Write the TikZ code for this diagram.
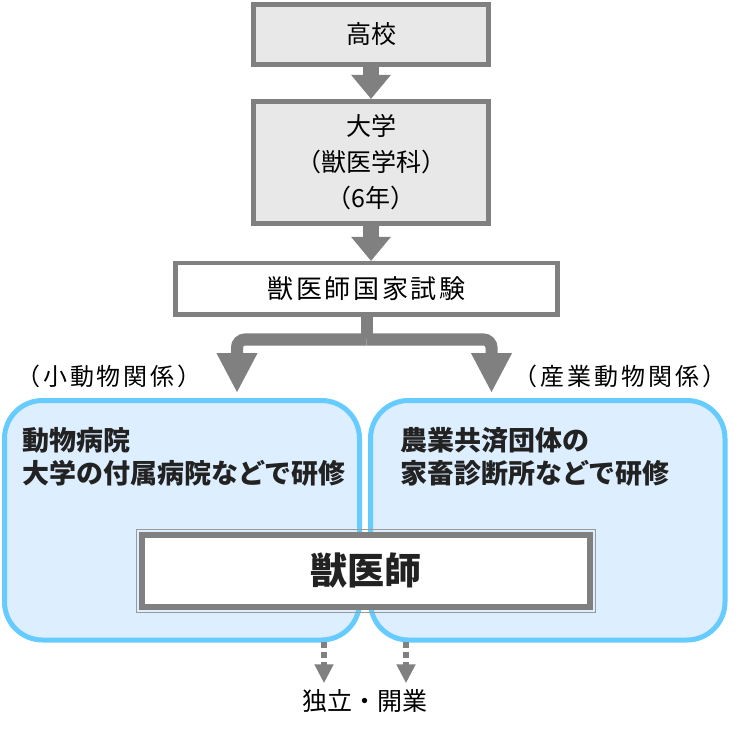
\documentclass[tikz,border=0pt]{standalone}
\usepackage{fontspec}
\setmainfont{Noto Sans CJK JP}
\usepackage{tikz}
\usetikzlibrary{arrows.meta,calc}
\definecolor{arrowgray}{HTML}{808080}
\definecolor{boxgray}{HTML}{E8E8E8}
\definecolor{skyline}{HTML}{66CCFF}
\definecolor{skyfill}{HTML}{DDEEFF}
\definecolor{textdark}{HTML}{222222}

\begin{document}
\begin{tikzpicture}[x=1pt,y=-1pt,
    graybox/.style={draw=arrowgray,fill=boxgray,line width=5pt,inner sep=0pt,align=center,font=\fontsize{25}{36}\selectfont},
    exambox/.style={draw=arrowgray,fill=white,line width=4.5pt,inner sep=0pt,font=\fontsize{26}{30}\selectfont},
    fieldbox/.style={draw=skyline,fill=skyfill,line width=5pt,rounded corners=38pt,inner sep=0pt},
    fieldtext/.style={anchor=west,align=left,inner sep=0pt,text=textdark,font=\fontsize{27}{33}\selectfont\bfseries},
    sidelabel/.style={inner sep=0pt,font=\fontsize{24}{28}\selectfont\addfontfeature{LetterSpace=12}},
    downarrow/.style={draw=arrowgray,line width=16pt,-{Triangle[width=38pt,length=24pt]}},
    forkarrow/.style={draw=arrowgray,line width=12pt,rounded corners=8pt,-{Triangle[width=38pt,length=40pt]}},
    exitarrow/.style={draw=arrowgray,line width=6pt,dash pattern=on 6pt off 4pt,-{Triangle[width=18pt,length=19pt]}}]
    \useasboundingbox (0,0) rectangle (739,735);

    \node[graybox,minimum width=235pt,minimum height=60pt] (school) at (371,34.5) {高校};
    \node[graybox,minimum width=235pt,minimum height=122pt] (univ) at (371,162.5) {大学\\（獣医学科）\\（6年）};
    \node[exambox,minimum width=382pt,minimum height=51.5pt] (exam) at (366.5,289) {\addfontfeature{LetterSpace=10}獣医師国家試験};

    \draw[downarrow] (school.south) -- (univ.north);
    \draw[downarrow] (univ.south) -- (univ.south |- exam.north);

    \coordinate (fork) at (366.5,339.5);
    \coordinate (smalltip) at (237,393);
    \coordinate (farmtip) at (491.5,393);
    \draw[draw=arrowgray,line width=12pt] (exam.south) -- (fork);
    \draw[forkarrow] (fork) -| (smalltip);
    \draw[forkarrow] (fork) -| (farmtip);

    \node[sidelabel] (smalllabel) at (109,376) {（小動物関係）};
    \node[sidelabel] (farmlabel) at (620,376) {（産業動物関係）};

    \node[fieldbox,minimum width=355pt,minimum height=239.5pt] (small) at (182,520.25) {};
    \node[fieldbox,minimum width=354.5pt,minimum height=239.5pt] (farm) at (547.75,520.25) {};
    \node[fieldtext] (smalltext) at (22,457) {動物病院\\大学の付属病院などで研修};
    \node[fieldtext] (farmtext) at (400,457) {農業共済団体の\\家畜診断所などで研修};

    \node[draw=arrowgray,fill=white,line width=6pt,minimum width=447.5pt,minimum height=72pt,text=textdark,font=\fontsize{37}{40}\selectfont\bfseries] (vet) at (365.75,570.5) {獣医師};
    \draw[arrowgray!80,line width=1pt] ([xshift=-2.5pt,yshift=2.5pt]vet.north west) rectangle ([xshift=2.5pt,yshift=-2.5pt]vet.south east);

    \node[font=\fontsize{25}{28}\selectfont,inner sep=0pt] (indep) at (365,701) {独立・開業};
    \coordinate (smallexit) at (324,642);
    \coordinate (farmexit) at (406,642);
    \draw[exitarrow,shorten >=6pt] (smallexit) -- (smallexit |- indep.north);
    \draw[exitarrow,shorten >=6pt] (farmexit) -- (farmexit |- indep.north);
\end{tikzpicture}
\end{document}
